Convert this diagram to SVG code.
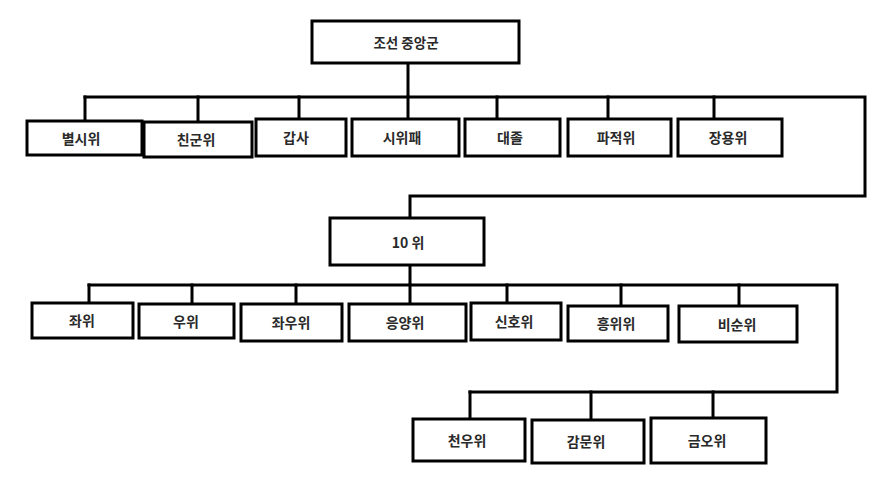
<svg xmlns="http://www.w3.org/2000/svg" width="883" height="483" viewBox="0 0 883 483">
<style>
.box{fill:#fff;stroke:#000;stroke-width:3}
.ln{fill:none;stroke:#000;stroke-width:3;stroke-linecap:square}
text{font-family:"Noto Sans CJK KR","Noto Sans",sans-serif;font-size:14px;font-weight:bold;fill:#2a2a2a;text-anchor:middle;dominant-baseline:central}
text.t{font-size:13.5px}
</style>
<rect width="883" height="483" fill="#fff"/>
<g id="connectors">
<path class="ln" d="M408 63 V97 M85 97 H865 V196 H410 V218"/>
<path class="ln" d="M85 97 V121 M198 97 V122 M299 97 V119 M408 97 V119 M497 97 V119 M608 97 V119 M714 97 V119"/>
<path class="ln" d="M410 265 V285 M89 285 H837 V392 H470"/>
<path class="ln" d="M89 285 V303 M192 285 V304 M296 285 V304 M410 285 V304 M507 285 V303 M621 285 V306 M739 285 V306"/>
<path class="ln" d="M470 392 V419 M591 392 V420 M713 392 V418"/>
</g>
<g id="n-top"><rect class="box" x="312" y="21" width="207" height="42"/><text class="t" x="406" y="42">조선 중앙군</text></g>
<g id="n-byeolsiwi"><rect class="box" x="27" y="121" width="115" height="34"/><text x="81" y="138">별시위</text></g>
<g id="n-chingunwi"><rect class="box" x="144" y="122" width="108" height="35"/><text x="196" y="139">친군위</text></g>
<g id="n-gapsa"><rect class="box" x="256" y="119" width="90" height="37"/><text x="296" y="137">갑사</text></g>
<g id="n-siwipae"><rect class="box" x="352" y="119" width="107" height="37"/><text x="402" y="137">시위패</text></g>
<g id="n-daejol"><rect class="box" x="465" y="119" width="95" height="37"/><text x="510" y="137">대졸</text></g>
<g id="n-pajeokwi"><rect class="box" x="568" y="119" width="103" height="37"/><text x="616" y="137">파적위</text></g>
<g id="n-jangyongwi"><rect class="box" x="678" y="119" width="104" height="37"/><text x="728" y="137">장용위</text></g>
<g id="n-10wi"><rect class="box" x="330" y="218" width="154" height="47"/><text x="408" y="242">10 위</text></g>
<g id="n-jwawi"><rect class="box" x="32" y="303" width="101" height="35"/><text x="82" y="320">좌위</text></g>
<g id="n-uwi"><rect class="box" x="139" y="304" width="95" height="34"/><text x="186" y="321">우위</text></g>
<g id="n-jwauwi"><rect class="box" x="241" y="304" width="101" height="37"/><text x="291" y="322">좌우위</text></g>
<g id="n-eungyangwi"><rect class="box" x="349" y="304" width="117" height="37"/><text x="405" y="322">응양위</text></g>
<g id="n-sinhowi"><rect class="box" x="471" y="303" width="90" height="37"/><text x="514" y="321">신호위</text></g>
<g id="n-heungwiwi"><rect class="box" x="568" y="306" width="100" height="35"/><text x="616" y="323">흥위위</text></g>
<g id="n-bisunwi"><rect class="box" x="679" y="306" width="118" height="36"/><text x="737" y="324">비순위</text></g>
<g id="n-cheonuwi"><rect class="box" x="413" y="419" width="112" height="42"/><text x="467" y="440">천우위</text></g>
<g id="n-gammunwi"><rect class="box" x="532" y="420" width="112" height="43"/><text x="586" y="441">감문위</text></g>
<g id="n-geumowi"><rect class="box" x="651" y="418" width="115" height="45"/><text x="707" y="440">금오위</text></g>
</svg>
